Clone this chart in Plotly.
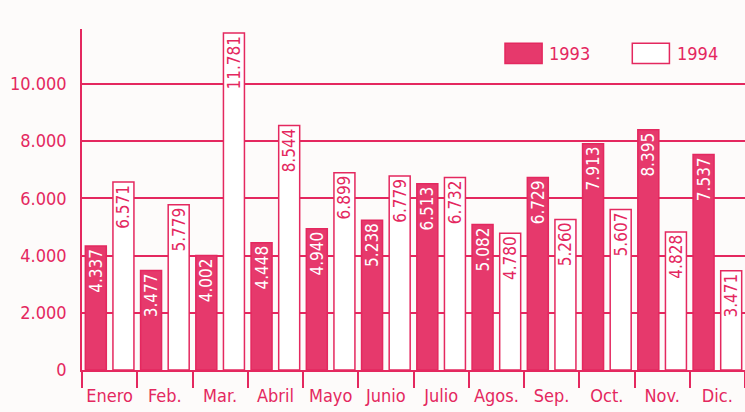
import plotly.graph_objects as go

months = ["Enero", "Feb.", "Mar.", "Abril", "Mayo", "Junio", "Julio",
          "Agos.", "Sep.", "Oct.", "Nov.", "Dic."]
series_names = ["1993", "1994"]
v1993 = [4337, 3477, 4002, 4448, 4940, 5238, 6513, 5082, 6729, 7913, 8395, 7537]
v1994 = [6571, 5779, 11781, 8544, 6899, 6779, 6732, 4780, 5260, 5607, 4828, 3471]
y_ticks = [0, 2000, 4000, 6000, 8000, 10000]

RED = "#e4285f"
FILL = "#e6396c"
BG = "#fdfbfa"
FONT = "DejaVu Sans Condensed, DejaVu Sans, sans-serif"

fig = go.Figure()
fig.add_trace(go.Bar(
    x=months, y=v1993, name=series_names[0],
    marker=dict(color=FILL, line=dict(color=RED, width=1.5)),
    texttemplate="%{y:,d}", textposition="inside", insidetextanchor="end",
    constraintext="none",
    textangle=-90, textfont=dict(color="white", size=17, family=FONT),
    cliponaxis=False,
))
fig.add_trace(go.Bar(
    x=months, y=v1994, name=series_names[1],
    marker=dict(color="white", line=dict(color=RED, width=1.5)),
    texttemplate="%{y:,d}", textposition="inside", insidetextanchor="end",
    constraintext="none",
    textangle=-90, textfont=dict(color=RED, size=17, family=FONT),
    cliponaxis=False,
))

# manual legend boxes
legend_items = [(0.638, FILL), (0.83, "white")]
for (x0, col), name in zip(legend_items, series_names):
    fig.add_shape(type="rect", xref="paper", yref="paper",
                  x0=x0, x1=x0 + 0.056, y0=0.899, y1=0.958,
                  fillcolor=col, line=dict(color=RED, width=1.5))
    fig.add_annotation(xref="paper", yref="paper", x=x0 + 0.064, y=0.928,
                       text=name, showarrow=False, xanchor="left", yanchor="middle",
                       font=dict(color=RED, size=18, family=FONT))

fig.update_layout(
    width=745, height=412,
    margin=dict(l=82, r=0, t=29, b=42, autoexpand=False),
    paper_bgcolor=BG, plot_bgcolor=BG,
    separators=",.",
    barmode="group", bargap=0.0, bargroupgap=0.24,
    showlegend=False,
    font=dict(family=FONT, color=RED, size=18),
)
fig.update_xaxes(
    type="category", range=[-0.5, 11.5], tickangle=0, automargin=False,
    showline=True, linecolor=RED, linewidth=1.5,
    ticks="outside", tickson="boundaries", ticklen=16, tickwidth=1.5, tickcolor=RED,
    showgrid=False, tickfont=dict(size=18, color=RED, family=FONT),
    ticklabelstandoff=9,
)
fig.update_yaxes(
    range=[0, 11920], tickvals=y_ticks, tickformat=",d", automargin=False,
    showline=True, linecolor=RED, linewidth=1.5,
    showgrid=True, gridcolor=RED, gridwidth=1.5,
    zeroline=False, ticks="", tickfont=dict(size=18, color=RED, family=FONT),
    ticklabelstandoff=10,
)

fig.write_html("out.html", config={"displayModeBar": False},
               post_script="document.body.style.margin='0';document.body.style.background='%s';" % BG)
